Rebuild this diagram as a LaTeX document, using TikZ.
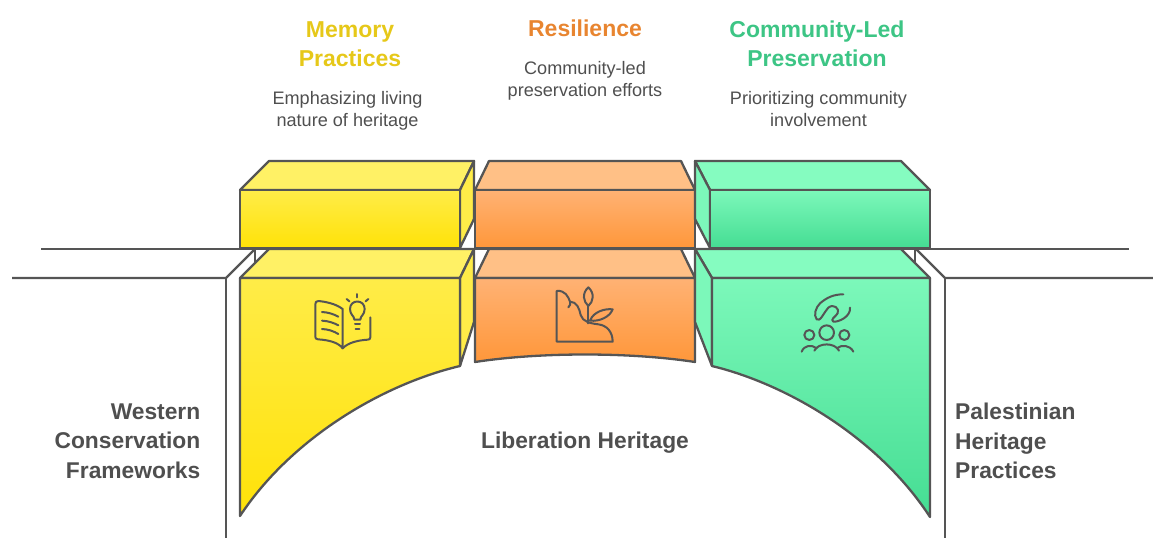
\documentclass[tikz,border=0pt]{standalone}
\usepackage{fontspec}
\setmainfont{Liberation Sans}
\definecolor{ln}{HTML}{555555}
\definecolor{txt}{HTML}{4F4F4F}
\definecolor{ytxt}{HTML}{E6C819}
\definecolor{otxt}{HTML}{E88530}
\definecolor{gtxt}{HTML}{3DC585}
\definecolor{ya}{HTML}{FFF165}
\definecolor{yb}{HTML}{FFEC48}
\definecolor{yc}{HTML}{FFE208}
\definecolor{oa}{HTML}{FFC086}
\definecolor{ob}{HTML}{FFB274}
\definecolor{oc}{HTML}{FF973A}
\definecolor{ga}{HTML}{85FCC0}
\definecolor{gb}{HTML}{7CF8BA}
\definecolor{gc}{HTML}{45DD93}
\tikzset{
  edge/.style={draw=ln,line width=2.3pt,line join=round},
  icon/.style={draw=ln,line width=2pt,line cap=round,line join=round},
  title/.style={font=\fontsize{23}{29}\selectfont\bfseries,align=center,inner sep=0pt,anchor=center},
  desc/.style={font=\fontsize{18.1}{22}\selectfont,text=txt,align=center,inner sep=0pt,anchor=center},
  side/.style={font=\fontsize{22.8}{29.5}\selectfont\bfseries,text=txt,inner sep=0pt},
}
\begin{document}
\begin{tikzpicture}[x=1pt,y=-1pt]
\useasboundingbox (0,0) rectangle (1153,538);
% back frame
\draw[edge] (12,278) -- (226,278) -- (255,249);
\draw[edge] (226,278) -- (226,538);
\draw[edge] (255,249) -- (255,264);
\draw[edge] (1153,278) -- (945,278) -- (916,249);
\draw[edge] (945,278) -- (945,538);
\draw[edge] (915,249) -- (915,264);
% yellow upper
\draw[edge,fill=ya] (240,190) -- (269,161) -- (474,161) -- (460,190) -- cycle;
\draw[edge,fill=yb] (460,190) -- (474,161) -- (474,219) -- (460,248) -- cycle;
\draw[edge,top color=yb,bottom color=yc] (240,190) rectangle (460,248);
% orange upper
\draw[edge,fill=oa] (475,190) -- (489,161) -- (681,161) -- (695,190) -- cycle;
\draw[edge,top color=ob,bottom color=oc] (475,190) rectangle (695,248);
% green upper
\draw[edge,fill=ga] (710,190) -- (695,161) -- (901,161) -- (930,190) -- cycle;
\draw[edge,fill=gb] (710,190) -- (695,161) -- (695,219) -- (710,248) -- cycle;
\draw[edge,top color=gb,bottom color=gc] (710,190) rectangle (930,248);
% yellow lower
\draw[edge,fill=ya] (240,278) -- (269,249) -- (474,249) -- (460,278) -- cycle;
\draw[edge,fill=yb] (460,278) -- (474,249) -- (474,322) -- (460,366) -- cycle;
\draw[edge,top color=yb,bottom color=yc] (240,278) -- (460,278) -- (460,366) .. controls (380,385) and (290,440) .. (240,516) -- cycle;
% orange lower
\draw[edge,fill=oa] (475,278) -- (489,249) -- (681,249) -- (695,278) -- cycle;
\draw[edge,top color=ob,bottom color=oc] (475,278) -- (695,278) -- (695,362) .. controls (630,352) and (540,352) .. (475,362) -- cycle;
% green lower
\draw[edge,fill=ga] (712,278) -- (695,249) -- (901,249) -- (930,278) -- cycle;
\draw[edge,fill=gb] (712,278) -- (695,249) -- (695,322) -- (712,366) -- cycle;
\draw[edge,top color=gb,bottom color=gc] (712,278) -- (930,278) -- (930,517) .. controls (880,440) and (790,385) .. (712,366) -- cycle;
% ground line
\draw[edge] (41,249) -- (1129,249);
% book icon
\begin{scope}[shift={(300,285)},x=0.3333pt,y=-0.3333pt]
\draw[icon] (128,190) -- (128,72) .. controls (105,55) and (75,50) .. (55,48) .. controls (48,48) and (46,52) .. (46,58) -- (46,155) .. controls (46,160) and (48,162) .. (54,163) .. controls (85,165) and (115,172) .. (128,190);
\draw[icon] (128,190) .. controls (145,172) and (175,166) .. (203,164) .. controls (208,164) and (211,162) .. (211,157) -- (211,97);
\draw[icon] (66,81) .. controls (85,82) and (100,87) .. (115,95);
\draw[icon] (66,107) .. controls (85,108) and (100,113) .. (115,121);
\draw[icon] (66,132) .. controls (85,133) and (100,138) .. (115,147);
\draw[icon] (163,104) .. controls (163,92) and (150,90) .. (150,72) .. controls (150,42) and (194,42) .. (194,72) .. controls (194,90) and (181,92) .. (181,104) -- cycle;
\draw[icon] (165,118) -- (180,118);
\draw[icon] (167,131) -- (178,131);
\draw[icon] (172,27) -- (172,37);
\draw[icon] (140,42) -- (148,49);
\draw[icon] (205,42) -- (197,49);
\end{scope}
% plant icon
\begin{scope}[shift={(540,280)},x=0.3333pt,y=-0.3333pt]
\draw[icon] (50,185) -- (50,33) .. controls (75,30) and (85,50) .. (90,65) .. controls (110,65) and (118,85) .. (122,105) .. controls (128,125) and (150,130) .. (175,133) .. controls (200,136) and (218,155) .. (218,185) -- cycle;
\draw[icon] (90,65) .. controls (92,72) and (90,78) .. (85,82);
\draw[icon] (145,130) -- (145,78);
\draw[icon] (145,22) .. controls (125,40) and (130,65) .. (145,78) .. controls (160,65) and (165,40) .. (145,22) -- cycle;
\draw[icon] (150,122) .. controls (160,95) and (195,85) .. (218,88) .. controls (210,110) and (180,125) .. (150,122) -- cycle;
\end{scope}
% community icon
\begin{scope}[shift={(785,285)},x=0.3333pt,y=-0.3333pt]
\draw[icon] (175,28) .. controls (145,28) and (125,38) .. (105,55) .. controls (92,68) and (85,90) .. (95,103) .. controls (105,112) and (115,85) .. (130,68) .. controls (145,55) and (165,70) .. (158,85) .. controls (150,97) and (135,103) .. (145,110) .. controls (160,112) and (198,95) .. (195,68);
\draw[icon] (125,143) circle [radius=7.3pt];
\draw[icon] (73,150) circle [radius=5pt];
\draw[icon] (178,150) circle [radius=5pt];
\draw[icon] (88,197) .. controls (100,172) and (150,172) .. (162,197);
\draw[icon] (50,200) .. controls (58,180) and (80,178) .. (95,190);
\draw[icon] (155,190) .. controls (170,178) and (195,180) .. (205,200);
\end{scope}
% titles and descriptions
\node[title,text=ytxt] (t1) at (350,44.3) {Memory\\Practices};
\node[title,text=otxt] (t2) at (585,28.3) {Resilience};
\node[title,text=gtxt] (t3) at (817,43.5) {Community-Led\\Preservation};
\node[desc] (d1) at (347.5,110.8) {Emphasizing living\\nature of heritage};
\node[desc] (d2) at (585,80.8) {Community-led\\preservation efforts};
\node[desc] (d3) at (818.5,109) {Prioritizing community\\involvement};
\node[side,align=right,anchor=east] (l) at (200.5,441) {Western\\Conservation\\Frameworks};
\node[side,align=center,anchor=center] (m) at (585,443) {Liberation Heritage};
\node[side,align=left,anchor=west] (r) at (955,441) {Palestinian\\Heritage\\Practices};
\end{tikzpicture}
\end{document}
